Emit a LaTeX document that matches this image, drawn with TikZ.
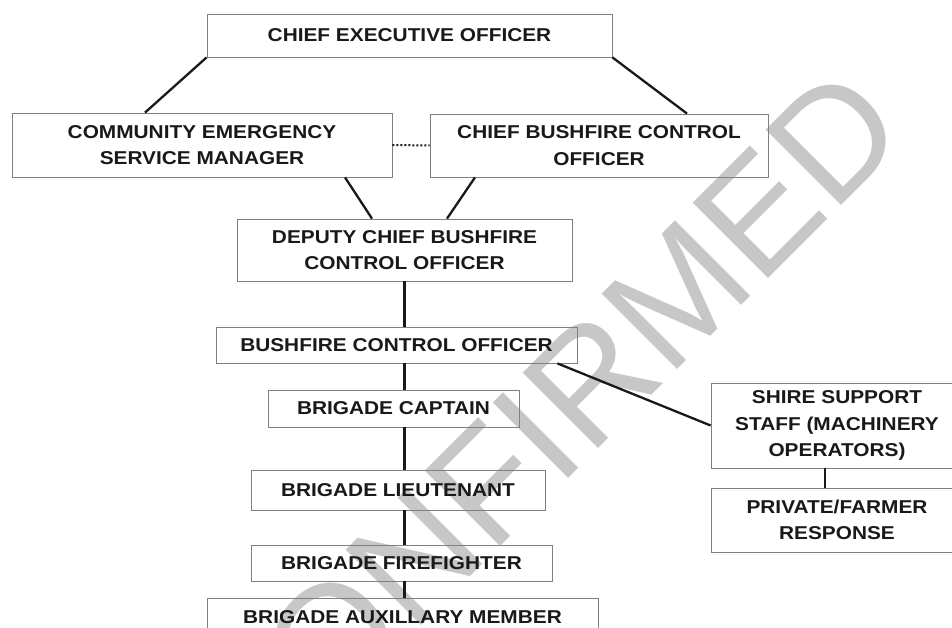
\documentclass[tikz,border=0pt]{standalone}
\usepackage{fontspec}
\setmainfont{Liberation Sans}
\newfontfamily\boxfont{Liberation Sans}[FakeStretch=1.12]
\usepackage{tikz}
\usetikzlibrary{positioning,calc}

\begin{document}
\begin{tikzpicture}[x=1pt,y=-1pt,
  box/.style={draw=black!50,line width=0.8pt,align=center,inner sep=0pt,text=black!90,
    font=\boxfont\fontsize{18.6}{26.5}\selectfont\bfseries},
  link/.style={line width=2.3pt,black!90}]
  \useasboundingbox (0,0) rectangle (952,628);
  \begin{scope}
  \clip (0,0) rectangle (952,628);
  % watermark behind the chart
  \node[rotate=45,anchor=base east,inner sep=0pt,text=black!22,
    font=\fontsize{155}{155}\selectfont] (mark) at (912,135) {UNCONFIRMED};
  % top levels
  \node[box,minimum width=405pt,minimum height=43pt] (ceo) at (409.5,35.5) {CHIEF EXECUTIVE OFFICER};
  \node[box,minimum width=380pt,minimum height=64pt] (cesm) at (202,145) {COMMUNITY EMERGENCY\\SERVICE MANAGER};
  \node[box,minimum width=338pt,minimum height=63pt] (cbco) at (599,145.5) {CHIEF BUSHFIRE CONTROL\\OFFICER};
  \node[box,minimum width=335pt,minimum height=62pt] (dcbco) at (404.5,250) {DEPUTY CHIEF BUSHFIRE\\CONTROL OFFICER};
  % brigade chain
  \node[box,minimum width=361pt,minimum height=36pt] (bco) at (396.5,345) {BUSHFIRE CONTROL OFFICER};
  \node[box,minimum width=251pt,minimum height=37pt] (capt) at (393.5,408.5) {BRIGADE CAPTAIN};
  \node[box,minimum width=294pt,minimum height=40pt] (lieut) at (398,490) {BRIGADE LIEUTENANT};
  \node[box,minimum width=301pt,minimum height=36pt] (ff) at (401.5,563) {BRIGADE FIREFIGHTER};
  \node[box,minimum width=391pt,minimum height=38pt] (aux) at (402.5,617) {BRIGADE AUXILLARY MEMBER};
  % shire side
  \node[box,minimum width=252pt,minimum height=85pt] (shire) at (837,425.5) {SHIRE SUPPORT\\STAFF (MACHINERY\\OPERATORS)};
  \node[box,minimum width=252pt,minimum height=64pt] (private) at (837,520) {PRIVATE/FARMER\\RESPONSE};
  % connectors
  \draw[link] (ceo.south west) -- ([xshift=-57pt]cesm.north);
  \draw[link] (ceo.south east) -- ([xshift=88pt]cbco.north);
  \draw[link,line width=2pt,dash pattern=on 2pt off 2pt] (cesm.east) -- (cbco.west);
  \draw[link] ([xshift=143pt]cesm.south) -- ([xshift=-32.5pt]dcbco.north);
  \draw[link] ([xshift=-124pt]cbco.south) -- ([xshift=42.5pt]dcbco.north);
  \foreach \a/\b in {dcbco/bco,bco/capt,capt/lieut,lieut/ff,ff/aux}
    \draw[link] (\a.south -| dcbco.south) -- (\b.north -| dcbco.south);
  \draw[link] ([xshift=-20pt]bco.south east) -- (shire.west);
  \draw[link,line width=2.8pt] ([xshift=-12pt]shire.south) -- ([xshift=-12pt]private.north);
  \end{scope}
\end{tikzpicture}
\end{document}
